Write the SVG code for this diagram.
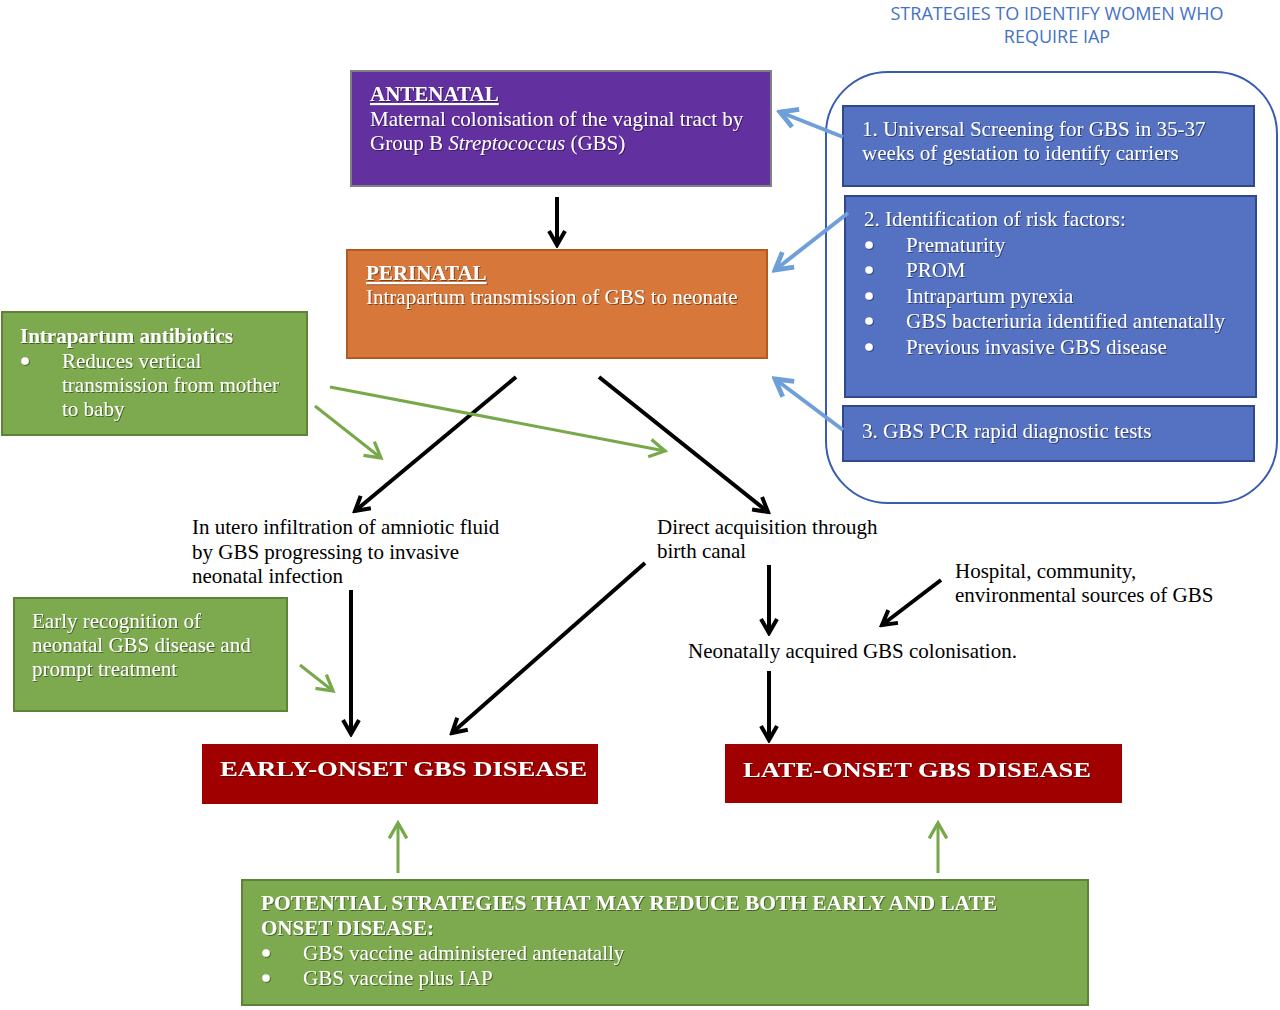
<svg xmlns="http://www.w3.org/2000/svg" width="1280" height="1010" viewBox="0 0 1280 1010">
<defs>
<style>
.t{font-family:"Liberation Serif","Times New Roman",serif;font-size:21px}
.w{fill:#ffffff;filter:url(#sh)}
.k{fill:#000000}
.b{font-weight:bold}
.u{text-decoration:underline}
.dot{fill:#ffffff;filter:url(#sh)}
.blk{stroke:#000;stroke-width:4;fill:none;marker-end:url(#ak)}
.grn{stroke:#77A84A;stroke-width:3;fill:none;marker-end:url(#ag)}
.blu{stroke:#6F9FD8;stroke-width:4;fill:none;marker-end:url(#ab)}
</style>
<filter id="sh" x="-5%" y="-20%" width="110%" height="140%">
<feDropShadow dx="1" dy="1" stdDeviation="0.6" flood-color="#000" flood-opacity="0.45"/>
</filter>
<marker id="ak" viewBox="0 0 20 20" refX="17" refY="10" markerWidth="20" markerHeight="20" markerUnits="userSpaceOnUse" orient="auto"><path d="M3,2 L17,10 L3,18" fill="none" stroke="#000" stroke-width="4"/></marker>
<marker id="ag" viewBox="0 0 20 20" refX="17" refY="10" markerWidth="22" markerHeight="22" markerUnits="userSpaceOnUse" orient="auto"><path d="M3,2 L17,10 L3,18" fill="none" stroke="#77A84A" stroke-width="3"/></marker>
<marker id="ab" viewBox="0 0 20 20" refX="17" refY="10" markerWidth="24" markerHeight="24" markerUnits="userSpaceOnUse" orient="auto"><path d="M3,2 L17,10 L3,18" fill="none" stroke="#6F9FD8" stroke-width="4"/></marker>
</defs>
<rect width="1280" height="1010" fill="#ffffff"/>

<g id="title">
<text x="1057" y="20" text-anchor="middle" font-family="'Open Sans','Liberation Sans',sans-serif" font-size="18" fill="#4472C4">STRATEGIES TO IDENTIFY WOMEN WHO</text>
<text x="1057" y="43" text-anchor="middle" font-family="'Open Sans','Liberation Sans',sans-serif" font-size="18" fill="#4472C4">REQUIRE IAP</text>
</g>

<g id="strategies-frame">
<rect x="826" y="72" width="451" height="431" rx="62" ry="62" fill="none" stroke="#3A5CB0" stroke-width="2"/>
</g>

<g id="screening">
<rect x="843" y="106" width="411" height="80" fill="#5571C2" stroke="#30498C" stroke-width="2"/>
<text class="t w" x="862" y="136">1. Universal Screening for GBS in 35-37</text>
<text class="t w" x="862" y="160">weeks of gestation to identify carriers</text>
</g>

<g id="risk-factors">
<rect x="845" y="196" width="411" height="201" fill="#5571C2" stroke="#30498C" stroke-width="2"/>
<text class="t w" x="864" y="226">2. Identification of risk factors:</text>
<circle class="dot" cx="869" cy="245" r="3.8"/>
<circle class="dot" cx="869" cy="270" r="3.8"/>
<circle class="dot" cx="869" cy="296" r="3.8"/>
<circle class="dot" cx="869" cy="321" r="3.8"/>
<circle class="dot" cx="869" cy="347" r="3.8"/>
<g class="t w">
<text x="906" y="252">Prematurity</text>
<text x="906" y="277">PROM</text>
<text x="906" y="303">Intrapartum pyrexia</text>
<text x="906" y="328">GBS bacteriuria identified antenatally</text>
<text x="906" y="354">Previous invasive GBS disease</text>
</g>
</g>

<g id="pcr">
<rect x="843" y="406" width="411" height="55" fill="#5571C2" stroke="#30498C" stroke-width="2"/>
<text class="t w" x="862" y="438">3. GBS PCR rapid diagnostic tests</text>
</g>

<g id="antenatal">
<rect x="351" y="71" width="420" height="115" fill="#63309F" stroke="#808080" stroke-width="2"/>
<text class="t w b u" x="370" y="101">ANTENATAL</text>
<text class="t w" x="370" y="126">Maternal colonisation of the vaginal tract by</text>
<text class="t w" x="370" y="150">Group B <tspan font-style="italic">Streptococcus</tspan> (GBS)</text>
</g>

<g id="perinatal">
<rect x="347" y="250" width="420" height="108" fill="#D7783A" stroke="#B35A22" stroke-width="2"/>
<text class="t w b u" x="366" y="280">PERINATAL</text>
<text class="t w" x="366" y="304">Intrapartum transmission of GBS to neonate</text>
</g>

<g id="intrapartum-antibiotics">
<rect x="2" y="312" width="305" height="123" fill="#7EAA4F" stroke="#5E8237" stroke-width="2"/>
<text class="t w b" x="20" y="343">Intrapartum antibiotics</text>
<circle class="dot" cx="25" cy="361" r="3.8"/>
<text class="t w" x="62" y="368">Reduces vertical</text>
<text class="t w" x="62" y="392">transmission from mother</text>
<text class="t w" x="62" y="416">to baby</text>
</g>

<g id="in-utero">
<text class="t k" x="192" y="534">In utero infiltration of amniotic fluid</text>
<text class="t k" x="192" y="559">by GBS progressing to invasive</text>
<text class="t k" x="192" y="583">neonatal infection</text>
</g>

<g id="direct">
<text class="t k" x="657" y="534">Direct acquisition through</text>
<text class="t k" x="657" y="558">birth canal</text>
</g>

<g id="hospital">
<text class="t k" x="955" y="578">Hospital, community,</text>
<text class="t k" x="955" y="602">environmental sources of GBS</text>
</g>

<g id="neonatal-colonisation">
<text class="t k" x="688" y="658">Neonatally acquired GBS colonisation.</text>
</g>

<g id="early-recognition">
<rect x="14" y="598" width="273" height="113" fill="#7EAA4F" stroke="#5E8237" stroke-width="2"/>
<text class="t w" x="32" y="628">Early recognition of</text>
<text class="t w" x="32" y="652">neonatal GBS disease and</text>
<text class="t w" x="32" y="676">prompt treatment</text>
</g>

<g id="early-onset">
<rect x="202" y="744" width="396" height="60" fill="#A00000"/>
<text class="t w b" x="220" y="776" font-size="24" textLength="367" lengthAdjust="spacingAndGlyphs">EARLY-ONSET GBS DISEASE</text>
</g>

<g id="late-onset">
<rect x="725" y="744" width="397" height="59" fill="#A00000"/>
<text class="t w b" x="743" y="777" font-size="24" textLength="348" lengthAdjust="spacingAndGlyphs">LATE-ONSET GBS DISEASE</text>
</g>

<g id="potential">
<rect x="242" y="880" width="846" height="125" fill="#7EAA4F" stroke="#5E8237" stroke-width="2"/>
<text class="t w b" x="261" y="910" textLength="736" lengthAdjust="spacingAndGlyphs">POTENTIAL STRATEGIES THAT MAY REDUCE BOTH EARLY AND LATE</text>
<text class="t w b" x="261" y="935">ONSET DISEASE:</text>
<circle class="dot" cx="266" cy="953" r="3.8"/>
<text class="t w" x="303" y="960">GBS vaccine administered antenatally</text>
<circle class="dot" cx="266" cy="978" r="3.8"/>
<text class="t w" x="303" y="985">GBS vaccine plus IAP</text>
</g>

<g id="connectors">
<line class="blk" x1="557" y1="197" x2="557" y2="245"/>
<line class="blk" x1="516" y1="377" x2="355" y2="511"/>
<line class="blk" x1="599" y1="377" x2="768" y2="512"/>
<line class="blk" x1="351" y1="590" x2="351" y2="734"/>
<line class="blk" x1="645" y1="563" x2="452" y2="733"/>
<line class="blk" x1="769" y1="565" x2="769" y2="633"/>
<line class="blk" x1="941" y1="580" x2="882" y2="625"/>
<line class="blk" x1="769" y1="671" x2="769" y2="740"/>
<line class="grn" x1="315" y1="406" x2="381" y2="458"/>
<line class="grn" x1="330" y1="387" x2="665" y2="451"/>
<line class="grn" x1="300" y1="665" x2="333" y2="691"/>
<line class="grn" x1="398" y1="873" x2="398" y2="823"/>
<line class="grn" x1="938" y1="873" x2="938" y2="823"/>
<line class="blu" x1="843" y1="137" x2="780" y2="112"/>
<line class="blu" x1="848" y1="213" x2="775" y2="270"/>
<line class="blu" x1="843" y1="430" x2="775" y2="379"/>
</g>
</svg>
